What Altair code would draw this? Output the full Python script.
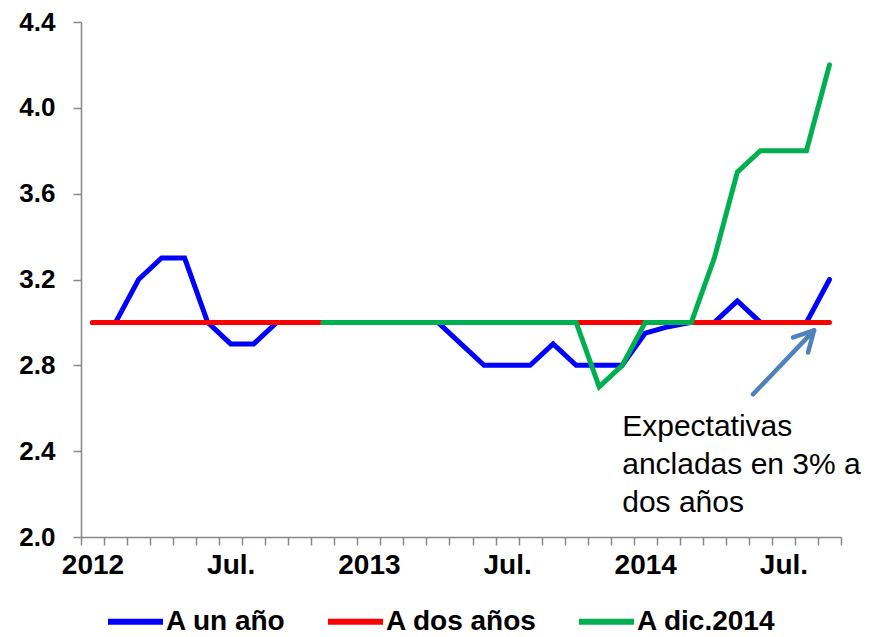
import altair as alt
import pandas as pd

# ---------------- data ----------------
months = list(range(33))  # Jan 2012 .. Sep 2014
serie_names = ["A un año", "A dos años", "A dic.2014"]
serie_colors = ["#0000FF", "#FF0000", "#00B050"]

a_un_ano = [3.0, 3.0, 3.2, 3.3, 3.3, 3.0, 2.9, 2.9, 3.0, 3.0, 3.0, 3.0,
            3.0, 3.0, 3.0, 3.0, 2.9, 2.8, 2.8, 2.8, 2.9, 2.8, 2.8, 2.8,
            2.95, 2.98, 3.0, 3.0, 3.1, 3.0, 3.0, 3.0, 3.2]
a_dos_anos = [3.0, 3.0, 3.0, 3.0, 3.0, 3.0, 3.0, 3.0, 3.0, 3.0, 3.0, 3.0,
              3.0, 3.0, 3.0, 3.0, 3.0, 3.0, 3.0, 3.0, 3.0, 3.0, 3.0, 3.0,
              3.0, 3.0, 3.0, 3.0, 3.0, 3.0, 3.0, 3.0, 3.0]
dic_2014_first_month = 10
a_dic_2014 = [3.0, 3.0, 3.0, 3.0, 3.0, 3.0, 3.0, 3.0, 3.0, 3.0, 3.0, 3.0,
              2.7, 2.8, 3.0, 3.0, 3.0, 3.3, 3.7, 3.8, 3.8, 3.8, 4.2]

tick_label_index = [0, 6, 12, 18, 24, 30]
tick_label_text = ["2012", "Jul.", "2013", "Jul.", "2014", "Jul."]
y_ticks = [2.0, 2.4, 2.8, 3.2, 3.6, 4.0, 4.4]

annot_lines = ["Expectativas", "ancladas en 3% a", "dos años"]
annot_x = [23.0]
annot_y = [2.47]
arrow_from_x = [28.68, 30.42, 31.07]
arrow_from_y = [2.665, 2.930, 2.860]
arrow_tip_x = [31.33, 31.33, 31.33]
arrow_tip_y = [2.963, 2.963, 2.963]

# ---------------- tables ----------------
rows = []
for m, v in zip(months, a_un_ano):
    rows.append({"mes": m, "valor": v, "serie": serie_names[0]})
for m, v in zip(months, a_dos_anos):
    rows.append({"mes": m, "valor": v, "serie": serie_names[1]})
for k, v in enumerate(a_dic_2014):
    rows.append({"mes": dic_2014_first_month + k, "valor": v, "serie": serie_names[2]})
df = pd.DataFrame(rows)

arrow_df = pd.DataFrame({"x": arrow_from_x, "y": arrow_from_y,
                         "x2": arrow_tip_x, "y2": arrow_tip_y})
annot_df = pd.DataFrame({"x": annot_x, "y": annot_y, "t": ["\n".join(annot_lines)]})

# ---------------- style ----------------
FONT = "Liberation Sans"
W, H = 760, 515
AX = "#888888"
n_months = len(months)

label_expr = (
    "indexof({idx}, round(datum.value + 0.5)) >= 0 ? "
    "{txt}[indexof({idx}, round(datum.value + 0.5))] : ''"
).format(idx=str(tick_label_index),
         txt="[" + ",".join("'" + t + "'" for t in tick_label_text) + "]")

x_scale = alt.Scale(domain=[-0.5, n_months - 0.5], nice=False, zero=False)
y_scale = alt.Scale(domain=[2.0, 4.4], nice=False, zero=False)

x_axis = alt.Axis(
    values=[k - 0.5 for k in range(n_months + 1)],
    labelExpr=label_expr, labelOffset=W / n_months / 2, labelFlush=False,
    labelOverlap=False, labelBound=False, labelAlign="center",
    labelFont=FONT, labelFontSize=28, labelFontWeight="bold", labelColor="black",
    labelPadding=6, tickSize=8, tickColor=AX, tickWidth=1.5,
    domainColor=AX, domainWidth=1.5, grid=False, title=None,
)
y_axis = alt.Axis(
    values=y_ticks, format=".1f", labelFlush=False, labelOverlap=False,
    labelFont=FONT, labelFontSize=26, labelFontWeight="bold", labelColor="black",
    labelPadding=18, tickSize=8, tickColor=AX, tickWidth=1.5,
    domainColor=AX, domainWidth=1.5, grid=False, title=None,
)

color = alt.Color(
    "serie:N",
    scale=alt.Scale(domain=serie_names, range=serie_colors),
    legend=alt.Legend(
        orient="none", legendX=24, legendY=569, direction="horizontal",
        title=None, symbolType="stroke", symbolSize=3025, symbolStrokeWidth=6,
        labelFont=FONT, labelFontSize=28, labelFontWeight="bold",
        labelColor="black", labelOffset=0, columnPadding=30, padding=0,
        labelLimit=400,
    ),
)

base = alt.Chart(df).mark_line(strokeWidth=5, strokeCap="round", strokeJoin="miter").encode(
    x=alt.X("mes:Q", scale=x_scale, axis=x_axis),
    y=alt.Y("valor:Q", scale=y_scale, axis=y_axis),
    color=color,
)
line_layers = [base.transform_filter(alt.datum.serie == s) for s in serie_names]

arrow = alt.Chart(arrow_df).mark_rule(color="#4F81BD", strokeWidth=4.5, strokeCap="round").encode(
    x=alt.X("x:Q", scale=x_scale, axis=x_axis),
    y=alt.Y("y:Q", scale=y_scale, axis=y_axis),
    x2="x2:Q", y2="y2:Q",
)

annot = alt.Chart(annot_df).mark_text(
    align="left", baseline="alphabetic", font=FONT, fontSize=30,
    lineHeight=38, lineBreak="\n", color="black",
).encode(
    x=alt.X("x:Q", scale=x_scale, axis=x_axis),
    y=alt.Y("y:Q", scale=y_scale, axis=y_axis),
    text="t:N",
)

chart = alt.layer(*line_layers, arrow, annot).properties(
    width=W, height=H,
    autosize=alt.AutoSizeParams(type="none"),
    padding={"left": 73, "top": 14, "right": 28, "bottom": 99},
    background="white",
).configure_view(stroke=None)

chart.save("out.html", embed_options={"renderer": "svg", "actions": False})
